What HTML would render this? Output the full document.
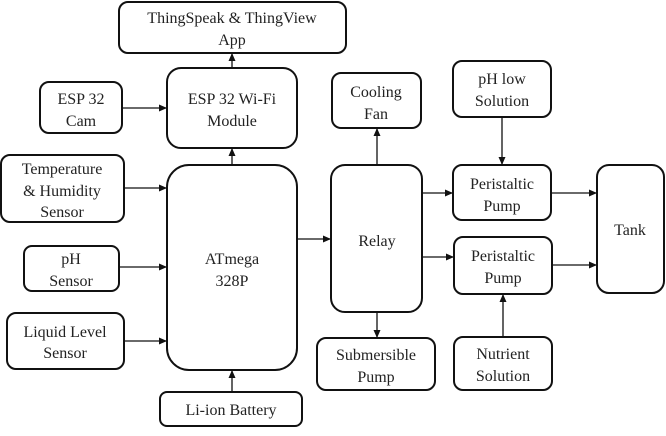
<!DOCTYPE html>
<html><head><meta charset="utf-8"><style>
body{margin:0;background:#fff;width:666px;height:431px;overflow:hidden}
svg text{font-family:"Liberation Serif",serif;font-size:16px;fill:#222;text-anchor:middle}
rect{fill:#fff;stroke:#111;stroke-width:2}
line{stroke:#111;stroke-width:1.3}
</style></head><body>
<svg width="666" height="431" viewBox="0 0 666 431">
<defs><marker id="a" markerWidth="8" markerHeight="8" refX="7" refY="4" orient="auto" markerUnits="userSpaceOnUse"><path d="M0,0.5 L8,4 L0,7.5z" fill="#111"/></marker></defs>
<rect x="119" y="2" width="227" height="51" rx="9"/>
<text x="232" y="23">ThingSpeak &amp; ThingView</text><text x="232" y="45">App</text>
<rect x="40" y="82" width="82" height="51" rx="9"/>
<text x="81" y="104">ESP 32</text><text x="81" y="126">Cam</text>
<rect x="167" y="68" width="130" height="80" rx="14"/>
<text x="232" y="104">ESP 32 Wi-Fi</text><text x="232" y="126">Module</text>
<rect x="1" y="155" width="123" height="67" rx="9"/>
<text x="62" y="174">Temperature</text><text x="62" y="196">&amp; Humidity</text><text x="62" y="217">Sensor</text>
<rect x="167" y="165" width="130" height="205" rx="22"/>
<text x="232" y="264">ATmega</text><text x="232" y="286">328P</text>
<rect x="24" y="246" width="95" height="45" rx="8"/>
<text x="71" y="264">pH</text><text x="71" y="286">Sensor</text>
<rect x="7" y="313" width="117" height="56" rx="9"/>
<text x="65" y="337">Liquid Level</text><text x="65" y="358">Sensor</text>
<rect x="160" y="392" width="142" height="34" rx="7"/>
<text x="231" y="415">Li-ion Battery</text>
<rect x="331" y="165" width="91" height="147" rx="14"/>
<text x="377" y="246">Relay</text>
<rect x="332" y="73" width="89" height="55" rx="9"/>
<text x="376" y="97">Cooling</text><text x="376" y="119">Fan</text>
<rect x="453" y="61" width="98" height="56" rx="9"/>
<text x="502" y="84">pH low</text><text x="502" y="106">Solution</text>
<rect x="453" y="165" width="98" height="55" rx="9"/>
<text x="502" y="189">Peristaltic</text><text x="502" y="211">Pump</text>
<rect x="454" y="237" width="98" height="57" rx="9"/>
<text x="503" y="261">Peristaltic</text><text x="503" y="283">Pump</text>
<rect x="597" y="165" width="67" height="128" rx="12"/>
<text x="630" y="235">Tank</text>
<rect x="317" y="338" width="118" height="52" rx="9"/>
<text x="376" y="360">Submersible</text><text x="376" y="382">Pump</text>
<rect x="454" y="337" width="98" height="53" rx="9"/>
<text x="503" y="359">Nutrient</text><text x="503" y="381">Solution</text>
<line x1="232" y1="68" x2="232" y2="54" marker-end="url(#a)"/>
<line x1="232" y1="165" x2="232" y2="149" marker-end="url(#a)"/>
<line x1="232" y1="392" x2="232" y2="371" marker-end="url(#a)"/>
<line x1="122" y1="108" x2="166" y2="108" marker-end="url(#a)"/>
<line x1="124" y1="188" x2="166" y2="188" marker-end="url(#a)"/>
<line x1="119" y1="267" x2="166" y2="267" marker-end="url(#a)"/>
<line x1="124" y1="341" x2="166" y2="341" marker-end="url(#a)"/>
<line x1="297" y1="239" x2="330" y2="239" marker-end="url(#a)"/>
<line x1="377" y1="165" x2="377" y2="129" marker-end="url(#a)"/>
<line x1="377" y1="312" x2="377" y2="337" marker-end="url(#a)"/>
<line x1="422" y1="193" x2="452" y2="193" marker-end="url(#a)"/>
<line x1="422" y1="257" x2="453" y2="257" marker-end="url(#a)"/>
<line x1="502" y1="117" x2="502" y2="164" marker-end="url(#a)"/>
<line x1="503" y1="337" x2="503" y2="295" marker-end="url(#a)"/>
<line x1="551" y1="193" x2="596" y2="193" marker-end="url(#a)"/>
<line x1="552" y1="265" x2="596" y2="265" marker-end="url(#a)"/>
</svg>
</body></html>
